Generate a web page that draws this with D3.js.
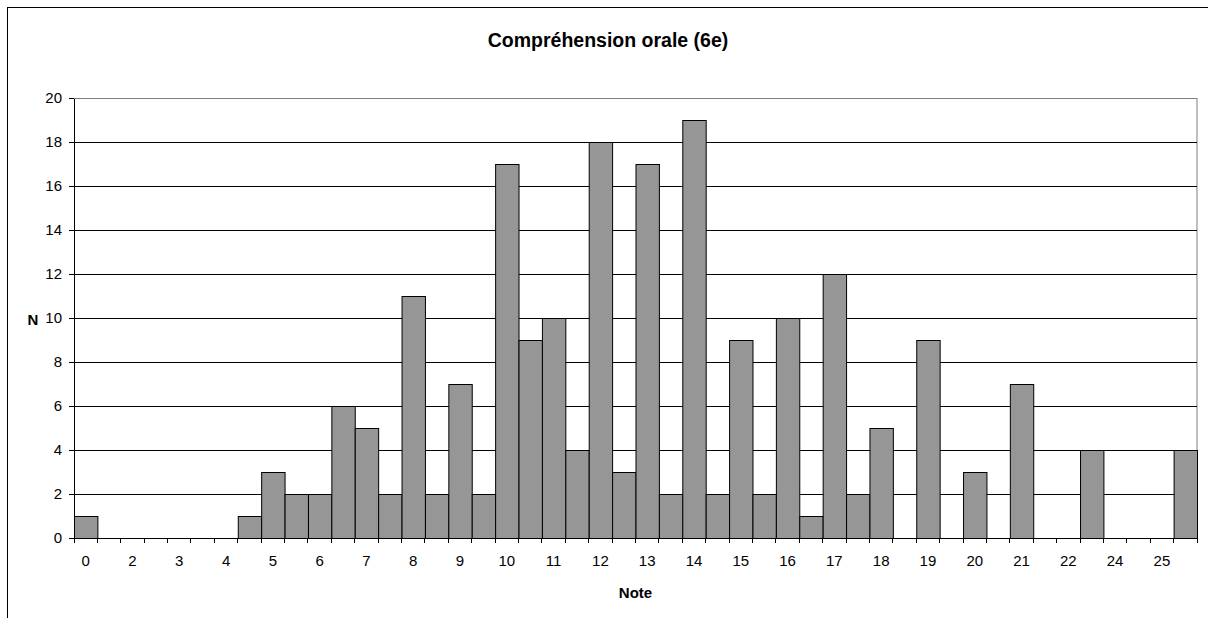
<!DOCTYPE html>
<html>
<head>
<meta charset="utf-8">
<script src="https://cdn.jsdelivr.net/npm/d3@7"></script>
<style>
    body { margin: 0; background: #fff; }
    svg { display: block; font-family: "Liberation Sans", Arial, sans-serif; }
</style>
</head>
<body>
<div id="chart"></div>
<script>
// Categories (only every other one gets a visible label on the axis)
const notes = ["0", "1", "2", "2.5", "3", "3.5", "4", "4.5", "5", "5.5",
    "6", "6.5", "7", "7.5", "8", "8.5", "9", "9.5", "10", "10.5",
    "11", "11.5", "12", "12.5", "13", "13.5", "14", "14.5", "15", "15.5",
    "16", "16.5", "17", "17.5", "18", "18.5", "19", "19.5", "20", "20.5",
    "21", "21.5", "22", "23", "24", "24.5", "25", "25.5"];

const counts = [1, 0, 0, 0, 0, 0, 0, 1, 3, 2,
    2, 6, 5, 2, 11, 2, 7, 2, 17, 9,
    10, 4, 18, 3, 17, 2, 19, 2, 9, 2,
    10, 1, 12, 2, 5, 0, 9, 0, 3, 0,
    7, 0, 0, 4, 0, 0, 0, 4];

const yTicks = [0, 2, 4, 6, 8, 10, 12, 14, 16, 18, 20];

const title = "Compréhension orale (6e)";
const xTitle = "Note";
const yTitle = "N";

// Dimensions
const W = 1208, H = 618;
const margin = {top: 98, right: 11, bottom: 80, left: 74};
const width = W - margin.left - margin.right;
const height = 538 - margin.top;

const svg = d3.select("#chart").append("svg")
    .attr("width", W)
    .attr("height", H);

// Chart area border (runs past the right and bottom edges)
svg.append("rect")
    .attr("x", 7.5)
    .attr("y", 7.5)
    .attr("width", 1220)
    .attr("height", 700)
    .attr("fill", "#fff")
    .attr("stroke", "#000")
    .attr("stroke-width", 1);

// Title
svg.append("text")
    .attr("x", 608)
    .attr("y", 47)
    .attr("text-anchor", "middle")
    .attr("font-size", "19.5px")
    .attr("font-weight", "bold")
    .text(title);

const g = svg.append("g")
    .attr("transform", `translate(${margin.left}, ${margin.top})`);

// Scales
const x = d3.scaleBand()
    .domain(notes)
    .range([0, width])
    .padding(0);

const y = d3.scaleLinear()
    .domain([0, 20])
    .range([height, 0]);

// Plot area border (grey, top and right)
g.append("rect")
    .attr("x", 0.5)
    .attr("y", 0.5)
    .attr("width", width - 0.5)
    .attr("height", height)
    .attr("fill", "none")
    .attr("stroke", "#808080");

// Gridlines
g.append("g")
    .attr("class", "grid")
    .call(d3.axisLeft(y).tickValues(yTicks.slice(1, -1)).tickSize(-width).tickFormat(""))
    .call(s => s.select(".domain").remove())
    .call(s => s.selectAll("line").attr("stroke", "#000").attr("shape-rendering", "crispEdges"));

// Bars
g.selectAll(".bar")
    .data(counts)
    .enter().append("rect")
    .attr("class", "bar")
    .attr("x", (d, i) => x(notes[i]) + 0.5)
    .attr("y", d => y(d) + 0.5)
    .attr("width", x.bandwidth())
    .attr("height", d => height - y(d))
    .attr("fill", "#969696")
    .attr("stroke", d => d > 0 ? "#000" : "none")
    .attr("stroke-width", 1);

// Y axis
g.append("g")
    .attr("class", "y-axis")
    .call(d3.axisLeft(y).tickValues(yTicks).tickSize(5).tickPadding(7).tickSizeOuter(0))
    .call(s => s.selectAll("text").attr("font-size", "15px").attr("fill", "#000").attr("font-family", null))
    .call(s => s.selectAll("line, path").attr("stroke", "#000").attr("shape-rendering", "crispEdges"));

// X axis: labels on every other category, ticks on category boundaries
const xAxis = g.append("g")
    .attr("class", "x-axis")
    .attr("transform", `translate(0, ${height})`)
    .call(d3.axisBottom(x).tickValues(notes.filter((d, i) => i % 2 === 0)).tickSize(0).tickPadding(17).tickSizeOuter(0))
    .call(s => s.selectAll("text").attr("font-size", "15px").attr("fill", "#000").attr("font-family", null))
    .call(s => s.select(".domain").attr("stroke", "#000").attr("shape-rendering", "crispEdges"));

xAxis.selectAll(".boundary")
    .data(notes.map(d => x(d)).concat([width]))
    .enter().append("line")
    .attr("class", "boundary")
    .attr("x1", d => d)
    .attr("x2", d => d)
    .attr("y1", 0)
    .attr("y2", 5)
    .attr("stroke", "#000")
    .attr("shape-rendering", "crispEdges");

// Axis titles
svg.append("text")
    .attr("x", margin.left + width / 2)
    .attr("y", 598)
    .attr("text-anchor", "middle")
    .attr("font-size", "15px")
    .attr("font-weight", "bold")
    .text(xTitle);

svg.append("text")
    .attr("x", 33)
    .attr("y", 325)
    .attr("text-anchor", "middle")
    .attr("font-size", "15px")
    .attr("font-weight", "bold")
    .text(yTitle);
</script>
</body>
</html>
